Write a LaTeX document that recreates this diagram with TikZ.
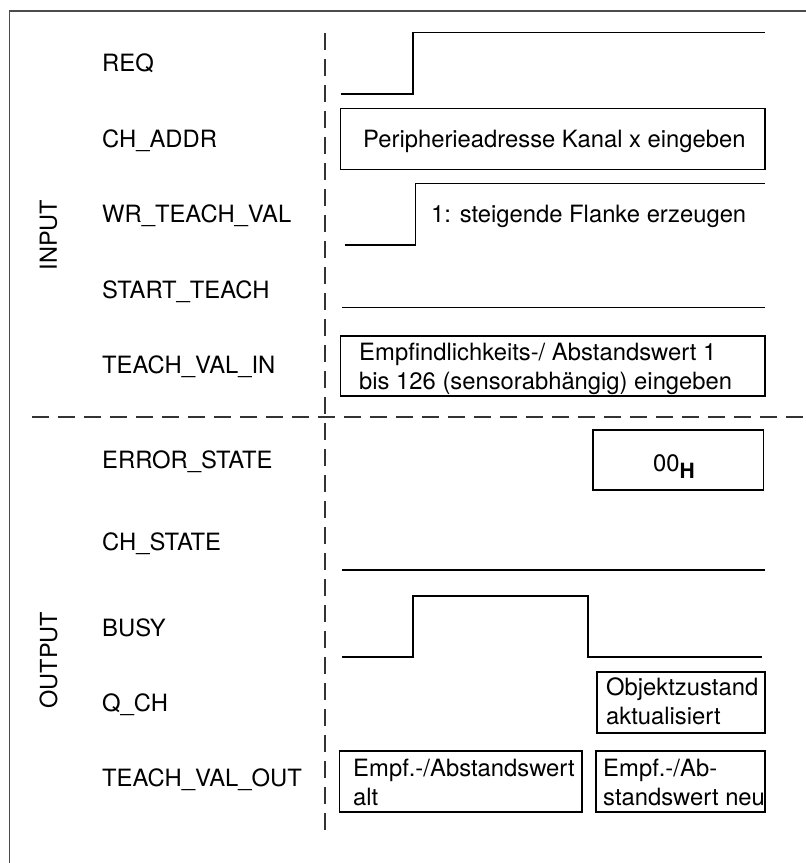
\documentclass[tikz,border=0pt]{standalone}
\usepackage{fontspec}
\setmainfont{TeX Gyre Heros}
\begin{document}
\begin{tikzpicture}[x=1pt,y=-1pt,
  txt/.style={anchor=base west, inner sep=0pt, font=\fontsize{23.8}{29.3}\selectfont},
  side/.style={inner sep=0pt, font=\fontsize{23.5}{28}\selectfont, rotate=90},
  boxed/.style={draw, line width=1.4pt, inner sep=0pt},
  sig/.style={line width=1.4pt},
  sep/.style={line width=1.2pt, black!80, dash pattern=on 17pt off 9pt},
  frame/.style={line width=1.3pt, black!70}]
\useasboundingbox (0,0) rectangle (806,863);

% outer frame (runs past the right and bottom edges)
\draw[frame] (9.5,863) -- (9.5,11) -- (806,11);

% separators between labels and waveforms, and between input and output
\coordinate (vtop) at (325,33);
\coordinate (vbot) at (325,833);
\coordinate (hl) at (32,417);
\coordinate (hr) at (806,417);
\draw[sep] (vtop) -- (vbot);
\draw[sep] (hl) -- (hr);

% group titles
\node[side] (input) at (48.5,235) {INPUT};
\node[side] (output) at (48.5,660) {OUTPUT};

% signal names
\node[txt] (lreq)   at (102,71.4)  {REQ};
\node[txt] (laddr)  at (102,147.4) {CH\_ADDR};
\node[txt] (lwr)    at (102,222.4) {WR\_TEACH\_VAL};
\node[txt] (lstart) at (102,298.4) {START\_TEACH};
\node[txt] (lvalin) at (102,373.4) {TEACH\_VAL\_IN};
\node[txt] (lerr)   at (102,468.4) {ERROR\_STATE};
\node[txt] (lch)    at (102,550.4) {CH\_STATE};
\node[txt] (lbusy)  at (102,636.4) {BUSY};
\node[txt] (lq)     at (102,711.4) {Q\_CH};
\node[txt] (lout)   at (102,786.4) {TEACH\_VAL\_OUT};

% REQ: rising edge
\draw[sig] (340.5,94) -- (413,94) -- (413,32.7) -- (765,32.7);

% CH_ADDR
\node[boxed, minimum width=424.5pt, minimum height=60.6pt] (baddr) at (552.75,139) {};
\node[txt] (taddr) at (363,147.4) {Peripherieadresse Kanal x eingeben};

% WR_TEACH_VAL: rising edge
\draw[sig] (344.6,245) -- (415.6,245) -- (415.6,183.3) -- (765,183.3);
\node[txt] (twr) at (431,222.4) {1: steigende Flanke erzeugen};

% START_TEACH: stays low
\draw[sig] (342,307.7) -- (765,307.7);

% TEACH_VAL_IN
\node[boxed, minimum width=424.5pt, minimum height=60pt] (bvalin) at (552.75,366) {};
\node[txt] (tvalin1) at (359,360.1) {Empfindlichkeits-/ Abstandswert 1};
\node[txt] (tvalin2) at (359,389.4) {bis 126 (sensorabhängig) eingeben};

% ERROR_STATE
\node[boxed, minimum width=170.7pt, minimum height=60pt] (berr) at (678.35,460) {};
\node[txt] (terr) at (653,471.4) {00\textsubscript{\fontsize{21}{21}\selectfont\bfseries H}};

% CH_STATE
\draw[sig] (342,570) -- (765,570);

% BUSY: pulse
\draw[sig] (342,657) -- (413,657) -- (413,596) -- (588,596) -- (588,657) -- (762,657);

% Q_CH
\node[boxed, minimum width=168pt, minimum height=61pt] (bq) at (681,702.5) {};
\node[txt] (tq1) at (606,695.4) {Objektzustand};
\node[txt] (tq2) at (606,724.4) {aktualisiert};

% TEACH_VAL_OUT
\node[boxed, minimum width=242.5pt, minimum height=61pt] (bold) at (460.75,781.5) {};
\node[txt] (told1) at (353,776.4) {Empf.-/Abstandswert};
\node[txt] (told2) at (353,805.4) {alt};
\node[boxed, minimum width=169pt, minimum height=61pt] (bnew) at (680.5,781.5) {};
\node[txt] (tnew1) at (603,776.4) {Empf.-/Ab-};
\node[txt] (tnew2) at (603,805.4) {standswert neu};
\end{tikzpicture}
\end{document}
